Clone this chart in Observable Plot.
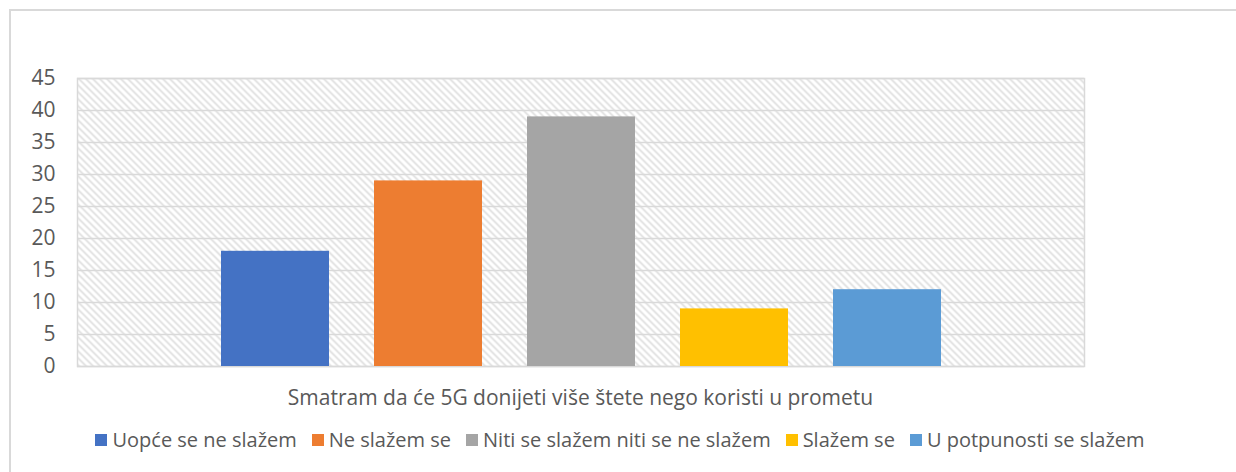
<!DOCTYPE html>
<html>
<head>
<meta charset="utf-8">
<script src="https://cdn.jsdelivr.net/npm/d3@7"></script>
<script src="https://cdn.jsdelivr.net/npm/@observablehq/plot@0.6"></script>
<style>
  html, body { margin: 0; padding: 0; background: #fff; overflow: hidden; }
  body { width: 1236px; height: 472px; position: relative; font-family: "Open Sans", sans-serif; }
  #frame { position: absolute; left: 9px; top: 9px; width: 1260px; height: 500px; border: 2px solid #d9d9d9; box-sizing: border-box; }
  #chart { position: absolute; left: 0; top: 0; }
  #xlabel { position: absolute; left: 77px; width: 1007px; top: 383px; text-align: center; font-size: 21px; color: #595959; line-height: 28px; }
  #legend { position: absolute; left: 0; width: 1236px; top: 426px; display: flex; justify-content: center; padding-left: 19px; box-sizing: border-box; font-size: 20px; color: #595959; line-height: 28px; }
  .item { display: flex; align-items: center; margin-right: 15px; }
  .sw { width: 12px; height: 12px; margin-right: 5px; }
</style>
</head>
<body>
<div id="frame"></div>
<div id="chart"></div>
<div id="xlabel"></div>
<div id="legend"></div>
<script>
const categoryLabel = "Smatram da će 5G donijeti više štete nego koristi u prometu";
const seriesNames = ["Uopće se ne slažem", "Ne slažem se", "Niti se slažem niti se ne slažem", "Slažem se", "U potpunosti se slažem"];
const seriesValues = [18, 29, 39, 9, 12];
const seriesColors = ["#4472C4", "#ED7D31", "#A5A5A5", "#FFC000", "#5B9BD5"];
const yTicks = [0, 5, 10, 15, 20, 25, 30, 35, 40, 45];

const data = seriesNames.map((name, i) => ({name, value: seriesValues[i]}));

const plot = Plot.plot({
  width: 1236,
  height: 380,
  marginLeft: 77,
  marginRight: 152,
  marginTop: 78,
  marginBottom: 14,
  style: {fontFamily: "'Open Sans', sans-serif", fontSize: "21px", color: "#595959", background: "transparent"},
  x: {domain: seriesNames, paddingInner: 0.296, paddingOuter: 0.928, axis: null},
  y: {domain: [0, 45], ticks: yTicks, label: null},
  color: {domain: seriesNames, range: seriesColors},
  marks: [
    Plot.frame({fill: "url(#hatch)", stroke: "none"}),
    Plot.gridY(yTicks, {stroke: "#d9d9d9", strokeOpacity: 1, strokeWidth: 1.5}),
    Plot.frame({stroke: "#d9d9d9", strokeWidth: 1.5}),
    Plot.axisY(yTicks, {tickSize: 0, tickPadding: 22, fontSize: 21, fill: "#595959", label: null}),
    Plot.barY(data, {x: "name", y: "value", fill: "name"})
  ]
});

const defs = d3.select(plot).insert("defs", ":first-child");
const pat = defs.append("pattern")
  .attr("id", "hatch")
  .attr("patternUnits", "userSpaceOnUse")
  .attr("width", 7).attr("height", 7);
pat.append("rect").attr("width", 7).attr("height", 7).attr("fill", "#ffffff");
pat.append("path")
  .attr("d", "M-1,-1 L8,8 M-1,6 L1,8 M6,-1 L8,1")
  .attr("stroke", "#dedede").attr("stroke-width", 1.6);

document.getElementById("chart").appendChild(plot);
document.getElementById("xlabel").textContent = categoryLabel;

const legend = document.getElementById("legend");
seriesNames.forEach((n, i) => {
  const it = document.createElement("div");
  it.className = "item";
  const sw = document.createElement("div");
  sw.className = "sw";
  sw.style.background = seriesColors[i];
  const tx = document.createElement("span");
  tx.textContent = n;
  it.appendChild(sw); it.appendChild(tx);
  legend.appendChild(it);
});
</script>
</body>
</html>
